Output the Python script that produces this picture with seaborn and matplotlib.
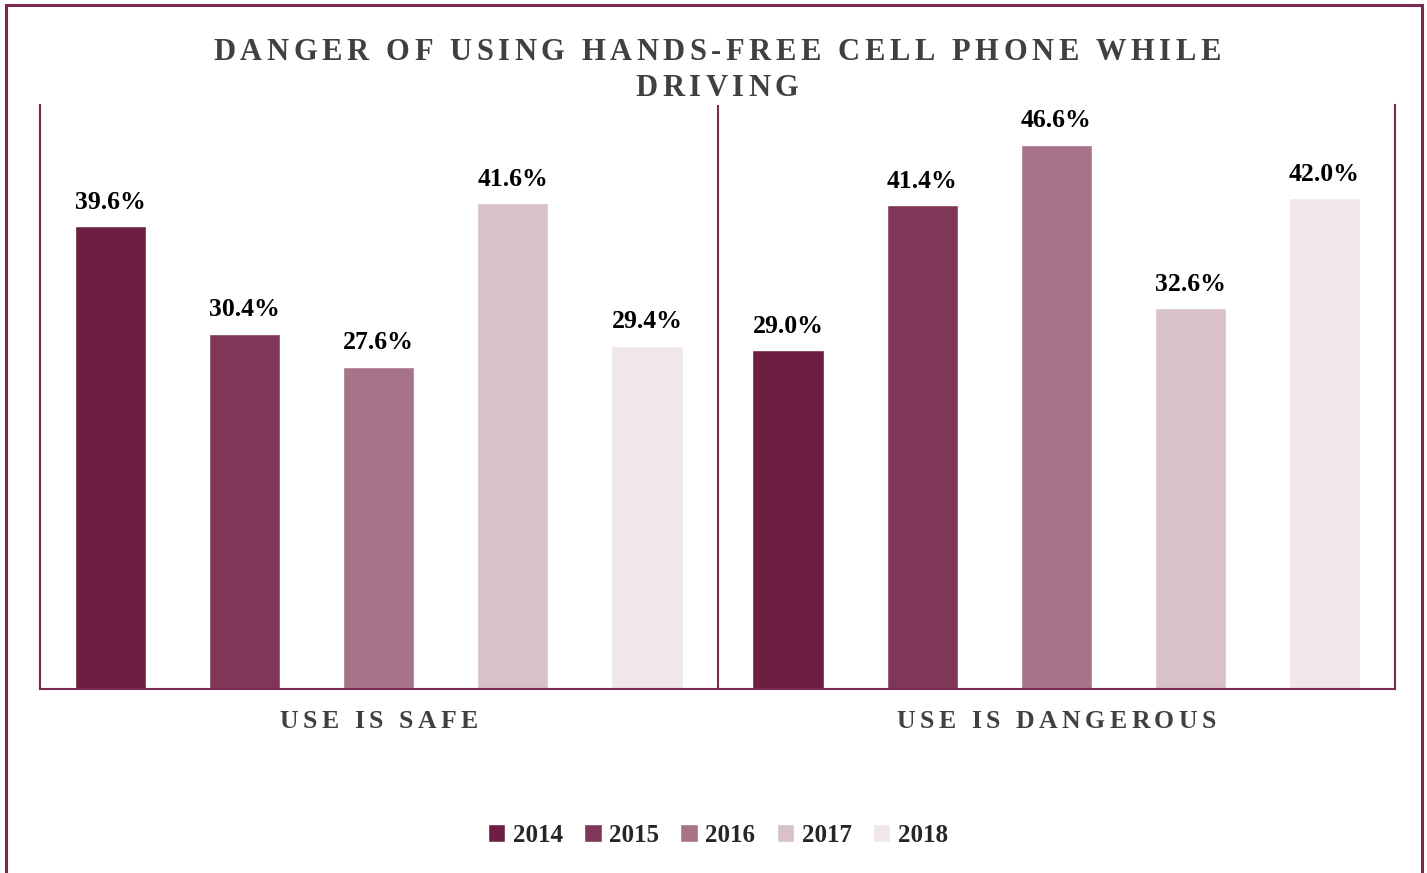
import matplotlib
matplotlib.use('Agg')
import matplotlib.pyplot as plt
import seaborn as sns
import pandas as pd
from matplotlib.patches import Rectangle
from matplotlib.font_manager import FontProperties

categories = ['USE IS SAFE', 'USE IS DANGEROUS']
years = ['2014', '2015', '2016', '2017', '2018']
safe = [39.6, 30.4, 27.6, 41.6, 29.4]
dangerous = [29.0, 41.4, 46.6, 32.6, 42.0]
title_lines = ['DANGER OF USING HANDS-FREE CELL PHONE WHILE', 'DRIVING']

palette = ['#6E1E41', '#7F3657', '#A67388', '#D8C1CB', '#F0E7EA']
frame_col = '#7A2A50'
W, H = 1427, 873

rows = []
for cat, vals in zip(categories, [safe, dangerous]):
    for yr, v in zip(years, vals):
        rows.append({'category': cat, 'year': yr, 'value': v})
df = pd.DataFrame(rows)

sns.set_theme(style='white')
plt.rcParams['font.family'] = ['Liberation Serif', 'DejaVu Serif']

fig = plt.figure(figsize=(W / 100, H / 100), dpi=100)
ax = fig.add_axes([40 / W, 1 - 689 / H, 1355 / W, 584 / H])

sns.barplot(data=df, x='category', y='value', hue='year', palette=palette,
            width=0.99, gap=0.47, ax=ax, saturation=1, errorbar=None)

for cont in ax.containers:
    ax.bar_label(cont, fmt='%.1f%%', padding=9, fontsize=18.5, fontweight='bold', color='black')

ax.set_ylim(0, 50)
ax.set_xlim(-0.5, 1.5)
ax.set_ylabel('')
ax.set_xlabel('')
ax.set_yticks([])
ax.set_xticks([])
for s in ['left', 'right', 'bottom']:
    ax.spines[s].set_color(frame_col)
    ax.spines[s].set_linewidth(1.5)
ax.spines['top'].set_visible(False)
ax.axvline(0.5, color=frame_col, lw=1.5)

renderer = fig.canvas.get_renderer()


def spaced_text(s, cx, cy, size, extra):
    # matplotlib has no letter-spacing, so place glyphs one by one (pixel coords)
    fp = FontProperties(family='Liberation Serif', weight='bold', size=size)
    widths = [renderer.get_text_width_height_descent(ch, fp, ismath=False)[0] for ch in s]
    total = sum(widths) + extra * (len(s) - 1)
    x = cx - total / 2
    for ch, w in zip(s, widths):
        fig.text(x / W, 1 - cy / H, ch, fontproperties=fp, color='#404040',
                 ha='left', va='center')
        x += w + extra


spaced_text(title_lines[0], 717, 52, 22, 4.6)
spaced_text(title_lines[1], 717, 88, 22, 4.6)

for i, cat in enumerate(categories):
    cx = ax.transData.transform((i, 0))[0]
    spaced_text(cat, cx, 721, 18.5, 4.5)

handles, labels = ax.get_legend_handles_labels()
ax.legend_.remove()
fig.legend(handles, labels, loc='center', bbox_to_anchor=(0.503, 0.043), ncol=5, frameon=False,
           handlelength=0.7, handleheight=0.7, handletextpad=0.3, columnspacing=0.85,
           prop={'size': 18, 'weight': 'bold'})

fig.patches.append(Rectangle((6 / W, -0.02), 1416 / W, 1.02 - 5 / H,
                             transform=fig.transFigure, fill=False,
                             edgecolor=frame_col, lw=2.2))

fig.savefig('out.png', dpi=100)
